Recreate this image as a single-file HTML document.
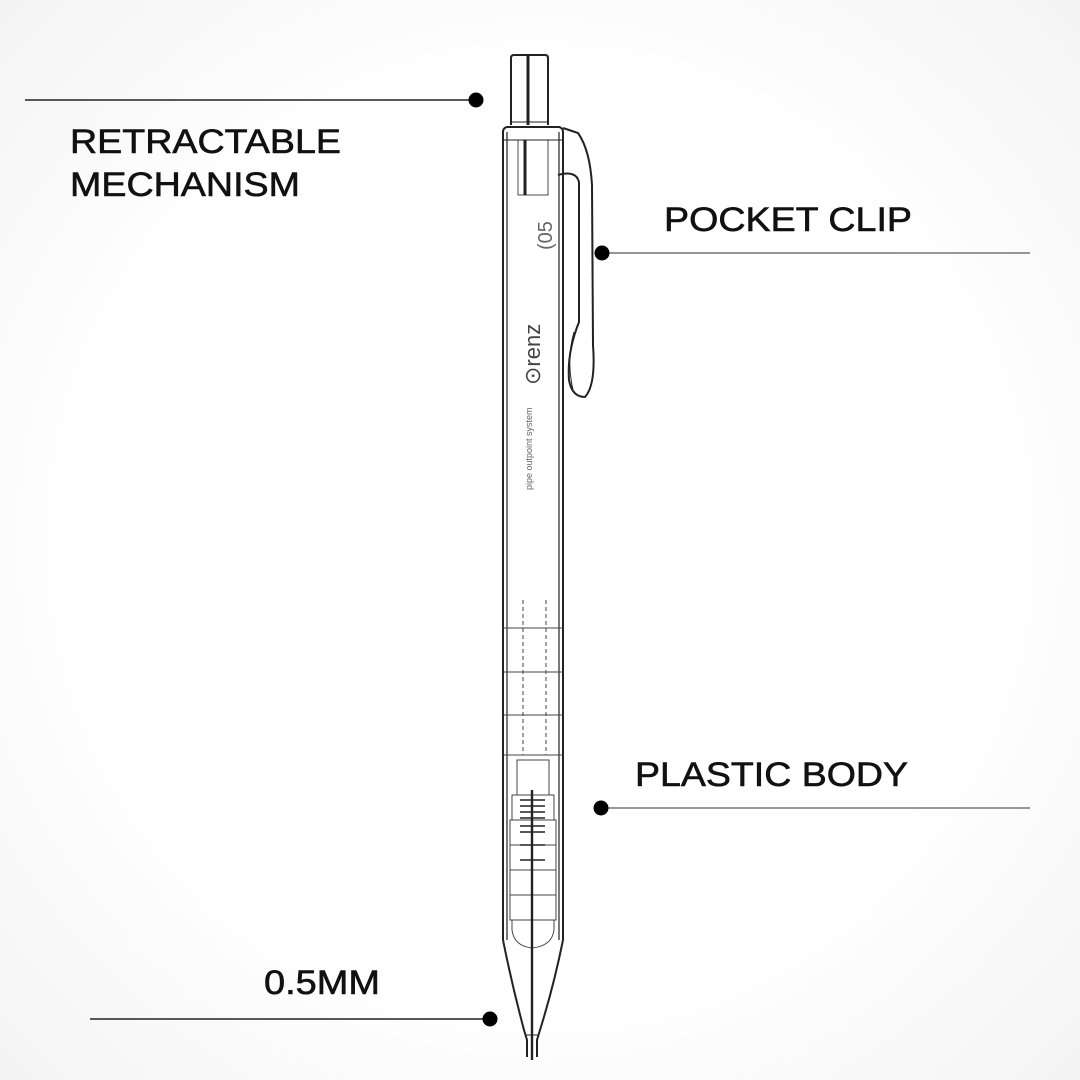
<!DOCTYPE html>
<html><head><meta charset="utf-8"><style>
html,body{margin:0;padding:0;background:#fff}
svg{display:block}
text{font-family:"Liberation Sans",sans-serif;fill:#111;font-size:34px}
.lbl{stroke:#111;stroke-width:0.6}
</style></head><body>
<svg width="1080" height="1080" viewBox="0 0 1080 1080" xmlns="http://www.w3.org/2000/svg">
<defs>
<radialGradient id="bg" cx="50%" cy="50%" r="70%">
<stop offset="0.6" stop-color="#ffffff"/><stop offset="1" stop-color="#f4f4f4"/>
</radialGradient>
</defs>
<rect width="1080" height="1080" fill="url(#bg)"/>

<!-- labels -->
<text class="lbl" x="70" y="153" textLength="271" lengthAdjust="spacingAndGlyphs">RETRACTABLE</text>
<text class="lbl" x="70" y="196" textLength="230" lengthAdjust="spacingAndGlyphs">MECHANISM</text>
<text class="lbl" x="664" y="231" textLength="248" lengthAdjust="spacingAndGlyphs">POCKET CLIP</text>
<text class="lbl" x="635" y="786" textLength="273" lengthAdjust="spacingAndGlyphs">PLASTIC BODY</text>
<text class="lbl" x="264" y="994" textLength="116" lengthAdjust="spacingAndGlyphs">0.5MM</text>

<!-- connectors -->
<line x1="25" y1="100" x2="476" y2="100" stroke="#222" stroke-width="1.5"/>
<circle cx="476" cy="100" r="7.5" fill="#000"/>
<line x1="602" y1="253" x2="1030" y2="253" stroke="#888" stroke-width="1.8"/>
<circle cx="602" cy="253" r="7.5" fill="#000"/>
<line x1="601" y1="808" x2="1030" y2="808" stroke="#888" stroke-width="1.8"/>
<circle cx="601" cy="808" r="7.5" fill="#000"/>
<line x1="90" y1="1019" x2="490" y2="1019" stroke="#222" stroke-width="1.5"/>
<circle cx="490" cy="1019" r="7.5" fill="#000"/>

<!-- pencil -->
<g fill="none" stroke="#222" stroke-width="2">
<!-- cap -->
<path d="M511 125 L511 58 Q511 55 514 55 L545 55 Q548 55 548 58 L548 125"/>
<line x1="528" y1="56" x2="528" y2="125" stroke-width="3"/>
<line x1="511" y1="122" x2="548" y2="122" stroke-width="1"/>
<!-- body -->
<path d="M503 940 L503 132 Q503 128 507 127 L559 127 Q563 128 563 132 L563 940"/>
<line x1="507" y1="132" x2="507" y2="940" stroke-width="1.2"/>
<line x1="559" y1="132" x2="559" y2="940" stroke-width="1.2"/>
<line x1="503" y1="140" x2="563" y2="140" stroke-width="1"/>
<line x1="525" y1="140" x2="525" y2="195" stroke-width="3"/>
<rect x="518" y="140" width="30" height="55" stroke-width="0.8"/>
<!-- clip -->
<path d="M563 128 L578 133 Q590 150 592 185 L593 345 Q596 385 585 397 Q572 397 569 380 Q567 352 579 322 L579 182 Q576 170 558 175"/>
<path d="M574 332 Q566 360 573 390" stroke-width="1"/>
<!-- text on body -->
<g stroke="none">
<text x="0" y="0" transform="translate(540 385) rotate(-90)" style="font-size:22px;fill:#444">⊙renz</text>
<text x="0" y="0" transform="translate(552 250) rotate(-90)" style="font-size:20px;fill:#666">(05</text>
<text x="0" y="0" transform="translate(532 490) rotate(-90)" style="font-size:9px;fill:#666">pipe outpoint system</text>
</g>
<!-- segments -->
<g stroke-width="1" stroke="#444">
<line x1="503" y1="628" x2="563" y2="628"/>
<line x1="503" y1="672" x2="563" y2="672"/>
<line x1="503" y1="715" x2="563" y2="715"/>
<line x1="503" y1="755" x2="563" y2="755"/>
<line x1="523" y1="600" x2="523" y2="755" stroke-dasharray="4 3"/>
<line x1="546" y1="600" x2="546" y2="755" stroke-dasharray="4 3"/>
<rect x="517" y="760" width="32" height="35"/>
<rect x="512" y="795" width="42" height="25"/>
<rect x="510" y="820" width="46" height="25"/>
<rect x="510" y="845" width="46" height="25"/>
<rect x="510" y="870" width="46" height="25"/>
<rect x="510" y="895" width="46" height="25"/>
<path d="M512 920 L512 930 Q514 946 532 948 Q552 946 554 930 L554 920"/>
</g>
<!-- internal lead & spring -->
<line x1="532" y1="790" x2="532" y2="1060" stroke-width="2.4"/>
<g stroke-width="1.4">
<line x1="520" y1="800" x2="545" y2="800"/><line x1="520" y1="806" x2="545" y2="806"/>
<line x1="520" y1="812" x2="545" y2="812"/><line x1="520" y1="818" x2="545" y2="818"/>
<line x1="520" y1="826" x2="545" y2="826"/><line x1="520" y1="832" x2="545" y2="832"/>
<line x1="520" y1="845" x2="545" y2="845"/><line x1="520" y1="860" x2="545" y2="860"/>
</g>
<!-- taper -->
<path d="M503 940 Q512 985 524 1030 L527 1040 L527 1057 M563 940 Q554 985 540 1030 L537 1040 L537 1057"/>
<line x1="525" y1="1035" x2="539" y2="1035" stroke-width="1"/>
</g>
</svg>
</body></html>
